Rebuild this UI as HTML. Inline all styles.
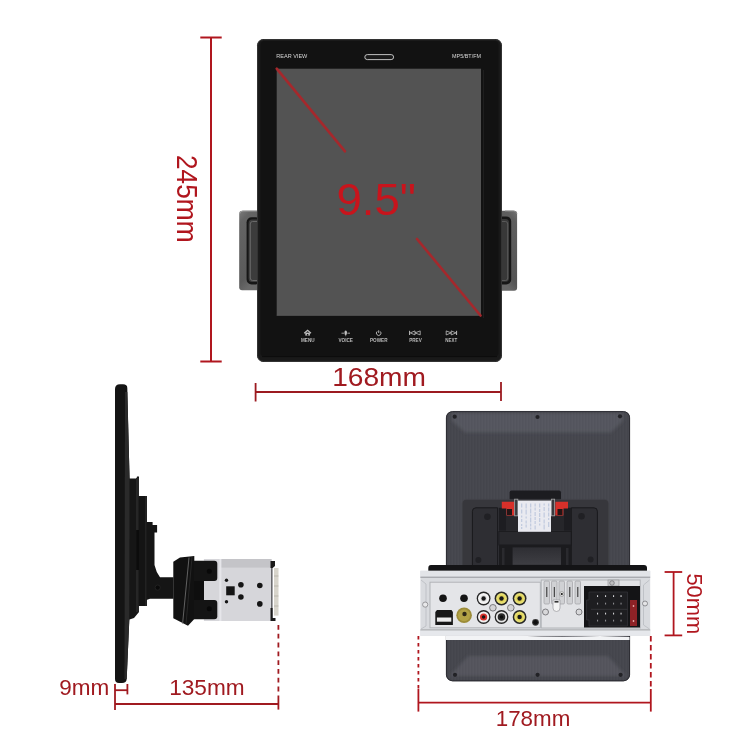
<!DOCTYPE html>
<html><head><meta charset="utf-8">
<style>
html,body{margin:0;padding:0;background:#fff;width:750px;height:750px;overflow:hidden}
svg{display:block;will-change:transform}
text{font-family:"Liberation Sans",sans-serif}
</style></head>
<body>
<svg width="750" height="750" viewBox="0 0 750 750">
<defs>
  <linearGradient id="brk" x1="0" y1="0" x2="0.3" y2="1">
    <stop offset="0" stop-color="#7c7c7c"/>
    <stop offset="0.15" stop-color="#646464"/>
    <stop offset="0.85" stop-color="#5a5a5a"/>
    <stop offset="1" stop-color="#6a6a6a"/>
  </linearGradient>
  <linearGradient id="brk2" x1="1" y1="0" x2="0.7" y2="1">
    <stop offset="0" stop-color="#747474"/>
    <stop offset="0.15" stop-color="#5e5e5e"/>
    <stop offset="0.85" stop-color="#555"/>
    <stop offset="1" stop-color="#666"/>
  </linearGradient>
  <linearGradient id="rtop" x1="0" y1="0" x2="0" y2="1">
    <stop offset="0" stop-color="#3e3e45"/>
    <stop offset="0.6" stop-color="#55555d"/>
    <stop offset="1" stop-color="#45454c"/>
  </linearGradient>
  <linearGradient id="rbot" x1="0" y1="0" x2="0" y2="1">
    <stop offset="0" stop-color="#424249"/>
    <stop offset="0.5" stop-color="#52525a"/>
    <stop offset="1" stop-color="#44444b"/>
  </linearGradient>
  <linearGradient id="brush" x1="0" y1="0" x2="1" y2="0">
    <stop offset="0" stop-color="#000" stop-opacity="0.12"/>
    <stop offset="0.05" stop-color="#000" stop-opacity="0"/>
    <stop offset="0.95" stop-color="#000" stop-opacity="0"/>
    <stop offset="1" stop-color="#000" stop-opacity="0.12"/>
  </linearGradient>
  <filter id="blur1" x="-10%" y="-50%" width="120%" height="200%"><feGaussianBlur stdDeviation="1.6"/></filter>
  <pattern id="brushp" width="3" height="10" patternUnits="userSpaceOnUse">
    <rect x="0" y="0" width="1" height="10" fill="#000" opacity="0.025"/>
    <rect x="2" y="0" width="1" height="10" fill="#fff" opacity="0.012"/>
  </pattern>
  <linearGradient id="lowin" x1="0" y1="0" x2="0" y2="1"><stop offset="0" stop-color="#2e2e33"/><stop offset="1" stop-color="#3e3e43"/></linearGradient>
</defs>
<rect width="750" height="750" fill="#fff"/>

<!-- ===== TOP: front view ===== -->
<!-- side brackets -->
<g id="brackets">
  <rect x="239.2" y="210.8" width="22" height="79.4" rx="3" fill="url(#brk)"/>
  <path d="M239.5,214 Q240,211 243,211 L258,211" fill="none" stroke="#9a9a9a" stroke-width="1"/>
  <rect x="246.6" y="217.2" width="14" height="67.2" rx="5" fill="#161616"/>
  <rect x="248.6" y="219.6" width="12" height="62.4" rx="3.5" fill="#3c3c3c"/>
  <path d="M258,221.5 L252.5,221.5 Q250.3,221.5 250.3,224 L250.3,278 Q250.3,280.5 252.5,280.5 L258,280.5" fill="none" stroke="#6e6e6e" stroke-width="0.9"/>
  <rect x="497" y="210.8" width="20.1" height="80" rx="3" fill="url(#brk2)"/>
  <path d="M505,211 L513.5,211 Q516.7,211 516.9,214" fill="none" stroke="#8a8a8a" stroke-width="1"/>
  <rect x="497" y="216.4" width="14.2" height="68" rx="5" fill="#161616"/>
  <rect x="497" y="219" width="12" height="62.8" rx="3.5" fill="#383838"/>
  <path d="M500,221.5 L505.5,221.5 Q507.7,221.5 507.7,224 L507.7,278 Q507.7,280.5 505.5,280.5 L500,280.5" fill="none" stroke="#5e5e5e" stroke-width="0.9"/>
</g>
<!-- bezel -->
<rect x="257" y="39" width="245" height="323" rx="6.5" fill="#191919"/>
<rect x="257.6" y="39.6" width="243.8" height="321.8" rx="6" fill="none" stroke="#3a3a3a" stroke-width="0.9"/>
<rect x="260.5" y="41" width="238" height="315.5" rx="4" fill="#121212"/>
<line x1="262" y1="356.6" x2="497" y2="356.6" stroke="#0a0a0a" stroke-width="0.8"/>
<line x1="483.5" y1="70" x2="483.5" y2="318" stroke="#1e1e1e" stroke-width="1"/>
<!-- screen -->
<rect x="276.7" y="68.7" width="204.3" height="246.8" fill="#535353"/>
<line x1="276.7" y1="315.3" x2="481" y2="315.3" stroke="#5e5e5e" stroke-width="0.7"/>
<line x1="276.7" y1="68.7" x2="345" y2="151.3" stroke="#a5282c" stroke-width="2.6" stroke-linecap="round"/>
<line x1="417" y1="239" x2="480.5" y2="315.5" stroke="#a5282c" stroke-width="2.6" stroke-linecap="round"/>
<text x="336.4" y="215.4" font-size="45" fill="#c8141c" textLength="79.5" lengthAdjust="spacingAndGlyphs">9.5"</text>
<!-- top bezel details -->
<text x="276.3" y="58.4" font-size="5.8" fill="#d6d6d6" textLength="31" lengthAdjust="spacingAndGlyphs">REAR VIEW</text>
<text x="452" y="58.2" font-size="5.6" fill="#d6d6d6" textLength="29" lengthAdjust="spacingAndGlyphs">MP5/BT/FM</text>
<rect x="364.8" y="54.6" width="28.8" height="5" rx="2.5" fill="#1a1a1a" stroke="#c8c8c8" stroke-width="0.95"/>
<!-- buttons -->
<g fill="#b8b8b8" font-size="5" font-weight="bold">
  <text x="301" y="341.6" textLength="13.6" lengthAdjust="spacingAndGlyphs">MENU</text>
  <text x="338.4" y="341.6" textLength="14.6" lengthAdjust="spacingAndGlyphs">VOICE</text>
  <text x="370" y="341.6" textLength="17.5" lengthAdjust="spacingAndGlyphs">POWER</text>
  <text x="409.2" y="341.6" textLength="12.6" lengthAdjust="spacingAndGlyphs">PREV</text>
  <text x="445.2" y="341.6" textLength="12" lengthAdjust="spacingAndGlyphs">NEXT</text>
</g>
<g fill="none" stroke="#c0c0c0" stroke-width="1">
  <!-- home -->
  <path d="M304.2,333.2 L307.6,330.2 L311,333.2" stroke-width="1.2"/>
  <path d="M305.3,332.6 L305.3,335.6 L309.9,335.6 L309.9,332.6" fill="#c0c0c0" stroke="none"/>
  <rect x="306.9" y="334" width="1.4" height="1.6" fill="#121212" stroke="none"/>
  <!-- voice -->
  <line x1="341.5" y1="333.2" x2="344" y2="333.2" stroke-width="0.8"/>
  <line x1="347.4" y1="333.2" x2="350" y2="333.2" stroke-width="0.8"/>
  <ellipse cx="345.7" cy="332.8" rx="1.3" ry="2.4" fill="#c0c0c0" stroke="none"/>
  <line x1="345.7" y1="335.2" x2="345.7" y2="336.2" stroke-width="0.7"/>
  <!-- power -->
  <path d="M377.2,331.4 A2.3,2.3 0 1 0 380.2,331.4" stroke-width="0.9"/>
  <line x1="378.7" y1="330.3" x2="378.7" y2="333" stroke-width="0.9"/>
  <!-- prev -->
  <line x1="409.6" y1="330.8" x2="409.6" y2="335" stroke-width="1"/>
  <path d="M410.3,332.9 L415,330.9 L415,334.9 Z M415,332.9 L420.2,330.9 L420.2,334.9 Z" stroke-width="0.8" stroke-linejoin="round"/>
  <!-- next -->
  <path d="M446.2,330.9 L451.2,332.9 L446.2,334.9 Z M451.2,330.9 L456,332.9 L451.2,334.9 Z" stroke-width="0.8" stroke-linejoin="round"/>
  <line x1="456.6" y1="330.8" x2="456.6" y2="335" stroke-width="1"/>
</g>

<!-- dimension lines top -->
<g stroke="#b0161e" stroke-width="2" fill="none">
  <line x1="211" y1="37.5" x2="211" y2="361.5"/>
  <line x1="200.3" y1="37.5" x2="221.7" y2="37.5"/>
  <line x1="200.3" y1="361.5" x2="221.7" y2="361.5"/>
</g>
<g stroke="#9c1a20" stroke-width="1.8" fill="none">
  <line x1="255.6" y1="392" x2="501" y2="392"/>
  <line x1="255.6" y1="383" x2="255.6" y2="401.5"/>
  <line x1="501" y1="382" x2="501" y2="401"/>
</g>
<text transform="translate(177,155) rotate(90)" font-size="30" fill="#b0161e" textLength="87.5" lengthAdjust="spacingAndGlyphs">245mm</text>
<text x="332.2" y="385.5" font-size="26.5" fill="#a01a20" textLength="93.8" lengthAdjust="spacingAndGlyphs">168mm</text>

<!-- ===== BOTTOM LEFT: side view ===== -->
<g id="side">
  <!-- pieces behind panel -->
  <path d="M128,478.4 L136.5,478.4 L137,476.5 L139,476.5 L139,612 L134,618 L128,620 Z" fill="#161616"/>
  <rect x="136" y="478" width="3" height="134" fill="#262626"/>
  <path d="M138.5,496 L147,496 L147,606 L138.5,606 Z" fill="#141414"/>
  <rect x="145" y="496" width="2" height="110" fill="#222"/>
  <rect x="136.2" y="530" width="2.8" height="40" fill="#0c0c0c"/>
  <path d="M146.5,521.9 L152.6,521.9 L152.6,525 L157.1,525 L157.1,532.5 L154.5,532.5 L154.5,565 Q156,572 160,577.3 L173.5,577.3 L173.5,598.8 L150,598.8 L146.5,600 Z" fill="#151515"/>
  <circle cx="157.7" cy="587.6" r="2.6" fill="#0a0a0a" stroke="#262626" stroke-width="0.8"/>
  <!-- panel -->
  <path d="M115,389 Q115,384.3 120,384.3 L123,384.3 Q127.3,384.3 127.3,388 L129.6,480 L129.3,620 L126.7,679 Q126.5,683 122,683 L119,683 Q115,683 115,679 Z" fill="#141414"/>
  <path d="M125,392 L127.3,392 L129.6,480 L129.3,620 L126.7,679 L124.5,679 Z" fill="#2a2a2a"/>
  <!-- mount frame -->
  <path d="M173.3,561.7 L180,557.5 L194.3,555.9 L194.3,619 L188,625.7 L173.3,618.3 Z" fill="#111"/>
  <line x1="189" y1="557.5" x2="182.6" y2="623.6" stroke="#6a6a6a" stroke-width="0.9"/>
  <line x1="192" y1="557" x2="186" y2="624" stroke="#2c2c2c" stroke-width="0.8"/>
  <!-- metal chassis -->
  <rect x="203.9" y="559" width="67.6" height="62" fill="#d6d6da"/>
  <rect x="219.3" y="559" width="52.2" height="8.6" fill="#c4c4c8"/>
  <rect x="219.3" y="559" width="2.1" height="62" fill="#e6e6ea"/>
  <rect x="271" y="561" width="1.6" height="60" fill="#6a6a6e"/><path d="M270.5,561 L275,561 L275,566 L272.6,568 L270.5,568 Z" fill="#1a1a1a"/><path d="M270.5,608 L272.6,608 L272.6,618 L275.5,618 L275.5,621 L270.5,621 Z" fill="#1a1a1a"/>
  <rect x="274" y="568" width="4.5" height="47.6" fill="#d8d5cc"/>
  <g stroke="#a8a49a" stroke-width="0.6"><line x1="274" y1="576" x2="278.5" y2="576"/><line x1="274" y1="586" x2="278.5" y2="586"/><line x1="274" y1="596" x2="278.5" y2="596"/><line x1="274" y1="606" x2="278.5" y2="606"/></g>
  <g fill="#151515">
    <circle cx="226.5" cy="580.2" r="1.7"/>
    <rect x="226.2" y="586.3" width="8.5" height="9"/>
    <circle cx="240.9" cy="584.7" r="2.8"/>
    <circle cx="240.9" cy="597" r="2.8"/>
    <circle cx="226.5" cy="601.7" r="1.7"/>
    <circle cx="259.8" cy="585.5" r="2.8"/>
    <circle cx="259.8" cy="603.9" r="2.8"/>
  </g>
  <!-- clamps -->
  <rect x="194" y="581" width="10" height="19" fill="#0e0e0e"/>
  <path d="M194,560.7 L214.3,560.7 Q217.3,560.7 217.3,563.7 L217.3,578 Q217.3,581 214.3,581 L194,581 Z" fill="#141414"/>
  <path d="M194,600 L214.3,600 Q217.3,600 217.3,603 L217.3,616.3 Q217.3,619.3 214.3,619.3 L194,619.3 Z" fill="#141414"/>
  <circle cx="209.3" cy="571.3" r="2.5" fill="#080808"/>
  <circle cx="209.3" cy="608.7" r="2.5" fill="#080808"/>
</g>
<g stroke="#a01a20" stroke-width="1.8" fill="none">
  <line x1="115" y1="704" x2="278.4" y2="704"/>
  <line x1="115" y1="684" x2="115" y2="710"/>
  <line x1="115" y1="690.2" x2="127.4" y2="690.2"/>
  <line x1="127.4" y1="684" x2="127.4" y2="694.4"/>
  <line x1="278.4" y1="700" x2="278.4" y2="709.6"/>
  <line x1="278.4" y1="625" x2="278.4" y2="700" stroke-dasharray="4.8 4"/>
</g>
<text x="59.2" y="695.2" font-size="21.5" fill="#a01a20" textLength="50" lengthAdjust="spacingAndGlyphs">9mm</text>
<text x="169.2" y="695.3" font-size="22.4" fill="#a01a20" textLength="75.5" lengthAdjust="spacingAndGlyphs">135mm</text>

<!-- ===== BOTTOM RIGHT: rear view ===== -->
<g id="rear">
  <!-- back panel -->
  <rect x="446" y="411.2" width="184" height="270" rx="6.5" fill="#46474e"/>
  <path d="M452,413 L623,413 L623,421 L611,432.5 L465,432.5 L452,421 Z" fill="#55565e" filter="url(#blur1)"/>
    <path d="M450,676 L468,656 L608,656 L626,676 Z" fill="#54555d" filter="url(#blur1)"/>
  <rect x="446" y="411.2" width="184" height="270" rx="6.5" fill="url(#brushp)"/>
  <rect x="446.4" y="411.6" width="183.2" height="269.2" rx="6.2" fill="none" stroke="#2c2c32" stroke-width="1"/>
  <g fill="#222226">
    <circle cx="454.7" cy="416.7" r="2.1"/><circle cx="537.5" cy="417" r="2.1"/><circle cx="620" cy="416.3" r="2.1"/>
    <circle cx="455" cy="674.8" r="2.1"/><circle cx="537.6" cy="674.8" r="2.1"/><circle cx="620.6" cy="674.8" r="2.1"/>
  </g>
  <!-- mount frame -->
  <rect x="509.6" y="490.4" width="51.4" height="10" rx="2" fill="#1c1c20"/>
  <path d="M462.2,567.8 L462.2,503.9 Q462.2,499.4 466.7,499.4 L604.2,499.4 Q608.7,499.4 608.7,503.9 L608.7,567.8 Z" fill="#37373c" stroke="#44444a" stroke-width="0.6"/>
  <path d="M472.4,567.8 L472.4,511.3 Q472.4,507.8 475.9,507.8 L497.6,507.8 L497.6,567.8 Z" fill="#2e2e33" stroke="#19191c" stroke-width="1"/>
  <path d="M571.3,567.8 L571.3,507.8 L593.9,507.8 Q597.4,507.8 597.4,511.3 L597.4,567.8 Z" fill="#2e2e33" stroke="#19191c" stroke-width="1"/>
  <rect x="498.8" y="507.8" width="7.2" height="23" fill="#1d1d21"/>
  <rect x="564" y="507.8" width="7.2" height="23" fill="#1d1d21"/>
  <rect x="506" y="515.6" width="12" height="15.2" fill="#26262a"/>
  <rect x="551" y="515.6" width="13" height="15.2" fill="#26262a"/>
  <rect x="498.8" y="531.5" width="72.4" height="13.5" fill="#29292d" stroke="#18181b" stroke-width="0.8"/>
  <rect x="498.8" y="545" width="72.4" height="22.8" fill="#1b1b1e"/>
  <rect x="512.6" y="547.4" width="48.4" height="17.4" fill="url(#lowin)"/>
  <g fill="#2a2a2e"><rect x="502" y="548" width="2.5" height="18"/><rect x="566" y="548" width="2.5" height="18"/></g>
  <g fill="#202024">
    <circle cx="487.4" cy="516.8" r="3.3"/><circle cx="581.5" cy="516.3" r="3.3"/>
    <circle cx="478.4" cy="560" r="3"/><circle cx="590.6" cy="559.4" r="3"/>
  </g>
  <!-- red clips & prongs -->
  <path d="M501.8,501.8 L514.4,501.8 L514.4,515.6 L506.5,515.6 L506.5,508.4 L501.8,508.4 Z" fill="#d8302a"/>
  <path d="M555.4,501.8 L568,501.8 L568,508.4 L563.3,508.4 L563.3,515.6 L555.4,515.6 Z" fill="#d8302a"/>
  <rect x="507" y="509" width="5" height="6" fill="#241616"/>
  <rect x="557.5" y="509" width="5" height="6" fill="#241616"/>
  <rect x="514.6" y="499.2" width="3.2" height="16.6" fill="#3a3a3e" stroke="#9a9a9c" stroke-width="0.9"/>
  <rect x="551.4" y="499.2" width="3.2" height="16.6" fill="#3a3a3e" stroke="#9a9a9c" stroke-width="0.9"/>
  <rect x="518" y="500.6" width="33" height="31.2" fill="#e9eaf0"/>
  <g fill="#8aa0c8" opacity="0.4"><rect x="521" y="503.5" width="1.3" height="4"/><rect x="521" y="509.5" width="1.3" height="4"/><rect x="521" y="515.5" width="1.3" height="2"/><rect x="521" y="519.0" width="1.3" height="3"/><rect x="521" y="524.0" width="1.3" height="2"/><rect x="521" y="527.0" width="1.3" height="2"/><rect x="525.5" y="503.5" width="1.3" height="5"/><rect x="525.5" y="509.5" width="1.3" height="5"/><rect x="525.5" y="516.5" width="1.3" height="2"/><rect x="525.5" y="520.5" width="1.3" height="3"/><rect x="525.5" y="524.5" width="1.3" height="3"/><rect x="530" y="503.5" width="1.3" height="4"/><rect x="530" y="508.5" width="1.3" height="5"/><rect x="530" y="514.5" width="1.3" height="2"/><rect x="530" y="517.5" width="1.3" height="5"/><rect x="530" y="523.5" width="1.3" height="3"/><rect x="530" y="527.5" width="1.3" height="2"/><rect x="534.5" y="503.5" width="1.3" height="3"/><rect x="534.5" y="507.5" width="1.3" height="3"/><rect x="534.5" y="512.0" width="1.3" height="4"/><rect x="534.5" y="517.0" width="1.3" height="3"/><rect x="534.5" y="521.0" width="1.3" height="3"/><rect x="534.5" y="525.5" width="1.3" height="4"/><rect x="539" y="503.5" width="1.3" height="4"/><rect x="539" y="509.0" width="1.3" height="3"/><rect x="539" y="513.0" width="1.3" height="4"/><rect x="539" y="518.0" width="1.3" height="4"/><rect x="539" y="523.5" width="1.3" height="2"/><rect x="543.5" y="503.5" width="1.3" height="2"/><rect x="543.5" y="507.0" width="1.3" height="4"/><rect x="543.5" y="512.5" width="1.3" height="5"/><rect x="543.5" y="519.5" width="1.3" height="4"/><rect x="543.5" y="524.5" width="1.3" height="5"/><rect x="548" y="503.5" width="1.3" height="3"/><rect x="548" y="507.5" width="1.3" height="4"/><rect x="548" y="512.5" width="1.3" height="4"/><rect x="548" y="518.0" width="1.3" height="2"/><rect x="548" y="522.0" width="1.3" height="5"/></g>
  <!-- chassis -->
  <path d="M431,565 L644,565 Q647,565 647,568 L647,571 L428.3,571 L428.3,568 Q428.3,565 431,565 Z" fill="#141416"/>
  <rect x="420.4" y="570.8" width="229.8" height="65" fill="#d9dbdf"/>
  <rect x="420.4" y="570.8" width="229.8" height="6" fill="#e2e4e8"/>
  <rect x="420.4" y="576.6" width="229.8" height="1.4" fill="#a9abb0"/>
  <rect x="420.4" y="629.4" width="229.8" height="1.2" fill="#a4a6aa"/>
  <rect x="420.4" y="630.6" width="229.8" height="5.2" fill="#e6e8ec"/>
  <path d="M446,635.8 L520,635.8 Q560,637.5 600,636 L629.5,637 L629.5,640 L446,640 Z" fill="#f2f3f5"/>
  <!-- flanges -->
  <path d="M421,580 L426,584 L426,626 L421,629" fill="none" stroke="#b9bbc0" stroke-width="0.8"/>
  <path d="M649.5,580 L643.5,585 L643.5,625 L649.5,629" fill="none" stroke="#b9bbc0" stroke-width="0.8"/>
  <!-- left plate -->
  <rect x="430" y="582.2" width="110.3" height="45.6" fill="#e4e5e8" stroke="#aeb0b4" stroke-width="0.9"/>
  <circle cx="425.2" cy="604.6" r="2.6" fill="#e8e8ea" stroke="#8e8e92" stroke-width="0.9"/>
  <circle cx="443" cy="598.3" r="3.8" fill="#141414"/>
  <circle cx="464" cy="598.3" r="3.8" fill="#141414"/>
  <!-- usb -->
  <path d="M437,610 L451.5,610 L452.9,612 L452.9,625 L435.3,625 L435.3,612 Z" fill="#171717"/>
  <rect x="436.9" y="617.5" width="14.4" height="4.2" fill="#ececec"/>
  <!-- gold jack -->
  <circle cx="464.1" cy="615.3" r="7.8" fill="#9c8c38"/>
  <circle cx="464.1" cy="615.3" r="6" fill="#b2a245"/>
  <circle cx="464.5" cy="614" r="2.2" fill="#2e2818"/>
  <!-- RCA -->
  <g>
    <circle cx="483.6" cy="598.5" r="6.9" fill="#262626"/><circle cx="483.6" cy="598.5" r="5.6" fill="#f4f4f4"/><circle cx="483.6" cy="598.5" r="3.2" fill="#ddd"/><circle cx="483.6" cy="598.5" r="2.2" fill="#181818"/>
    <circle cx="501.5" cy="598.5" r="6.9" fill="#262626"/><circle cx="501.5" cy="598.5" r="5.4" fill="#e6de74"/><circle cx="501.5" cy="598.5" r="3.4" fill="#e2d455"/><circle cx="501.5" cy="598.5" r="2.2" fill="#181818"/>
    <circle cx="519.6" cy="598.5" r="6.9" fill="#262626"/><circle cx="519.6" cy="598.5" r="5.4" fill="#e6de74"/><circle cx="519.6" cy="598.5" r="3.4" fill="#e2d455"/><circle cx="519.6" cy="598.5" r="2.2" fill="#181818"/>
    <circle cx="483.6" cy="617" r="6.9" fill="#262626"/><circle cx="483.6" cy="617" r="5.6" fill="#f0f0f0"/><circle cx="483.6" cy="617" r="3.6" fill="#d8302a"/><circle cx="483.6" cy="617" r="1.8" fill="#181818"/>
    <circle cx="501.5" cy="617" r="6.9" fill="#262626"/><circle cx="501.5" cy="617" r="5.6" fill="#e8e8e8"/><circle cx="501.5" cy="617" r="3.8" fill="#2a2a2a"/><circle cx="501.5" cy="617" r="1.8" fill="#0e0e0e"/>
    <circle cx="519.6" cy="617" r="6.9" fill="#262626"/><circle cx="519.6" cy="617" r="5.4" fill="#e6de74"/><circle cx="519.6" cy="617" r="3.4" fill="#e2d455"/><circle cx="519.6" cy="617" r="2.2" fill="#181818"/>
    <circle cx="492.9" cy="607.8" r="3.3" fill="#d4d4d6" stroke="#6e6e72" stroke-width="0.9"/>
    <circle cx="510.8" cy="607.8" r="3.3" fill="#d4d4d6" stroke="#6e6e72" stroke-width="0.9"/>
  </g>
  <circle cx="535.5" cy="622.3" r="3.4" fill="#3a3a3a"/><circle cx="535.5" cy="622.3" r="2.4" fill="#101010"/>
  <!-- right plate -->
  <rect x="541.2" y="580" width="99" height="48" fill="#e2e3e6" stroke="#aeb0b4" stroke-width="0.9"/>
  <g fill="#d0d1d4" stroke="#a0a1a5" stroke-width="0.7">
    <rect x="544" y="581" width="5.5" height="23" rx="1.2"/><rect x="551.5" y="581" width="5.5" height="23" rx="1.2"/><rect x="559" y="581" width="5.5" height="23" rx="1.2"/><rect x="567" y="581" width="5.5" height="23" rx="1.2"/><rect x="575" y="581" width="5.5" height="23" rx="1.2"/>
  </g>
  <g fill="#2a2a2a"><rect x="546.3" y="587" width="1" height="10"/><rect x="553.8" y="587" width="1" height="10"/><rect x="569.3" y="587" width="1" height="10"/><rect x="577.3" y="587" width="1" height="10"/></g>
  <circle cx="561.8" cy="594" r="2.3" fill="#eee" stroke="#888" stroke-width="0.7"/>
  <circle cx="561.8" cy="594" r="1.1" fill="#111"/>
  <path d="M553,600 L560,600 L560,608 Q560,611.5 556.5,611.5 Q553,611.5 553,608 Z" fill="#f4f4f4" stroke="#9a9a9e" stroke-width="0.7"/>
  <rect x="554.5" y="601" width="4" height="1.6" fill="#333"/>
  <circle cx="545.5" cy="612" r="3" fill="#d8d8da" stroke="#727276" stroke-width="0.9"/>
  <circle cx="579" cy="612" r="3" fill="#d8d8da" stroke="#727276" stroke-width="0.9"/>
  <circle cx="645" cy="603.5" r="2.5" fill="#e4e4e6" stroke="#7a7a7e" stroke-width="0.8"/>
  <rect x="608" y="580" width="11" height="6" fill="#cfd0d3" stroke="#8e8e92" stroke-width="0.6"/>
  <circle cx="612" cy="583" r="2.3" fill="#bdbdbf" stroke="#6e6e72" stroke-width="0.7"/>
  <!-- ISO connector -->
  <rect x="584" y="586" width="56" height="41.5" fill="#141416"/>
  <path d="M589,592 L627.5,592 L627.5,626 L589,626 L589,620 L586.5,620 L586.5,600 L589,600 Z" fill="#1e1e21" stroke="#34343a" stroke-width="0.7"/>
  <line x1="591" y1="609.3" x2="627.5" y2="609.3" stroke="#38383e" stroke-width="0.8"/>
  <g fill="#cfcfd2">
    <rect x="597" y="595.2" width="1.1" height="1.8"/><rect x="605" y="595.2" width="1.1" height="1.8"/><rect x="613" y="595.2" width="1.1" height="1.8"/><rect x="620.5" y="595.2" width="1.1" height="1.8"/>
    <rect x="613" y="612.7" width="1.1" height="1.8"/><rect x="597" y="612.7" width="1.1" height="1.8"/><rect x="605" y="612.7" width="1.1" height="1.8"/><rect x="620.5" y="612.7" width="1.1" height="1.8"/>
  </g>
  <g fill="#8a8a8e">
    <rect x="597" y="602.7" width="1.1" height="1.8"/><rect x="605" y="602.7" width="1.1" height="1.8"/><rect x="613" y="602.7" width="1.1" height="1.8"/><rect x="620.5" y="602.7" width="1.1" height="1.8"/>
    <rect x="597" y="619.7" width="1.1" height="1.8"/><rect x="605" y="619.7" width="1.1" height="1.8"/><rect x="613" y="619.7" width="1.1" height="1.8"/><rect x="620.5" y="619.7" width="1.1" height="1.8"/>
  </g>
  <rect x="630" y="600" width="7" height="26" fill="#8e2226"/>
  <rect x="632.8" y="605" width="1.4" height="2" fill="#e0a0a0"/><rect x="632.8" y="620" width="1.4" height="2" fill="#e0a0a0"/>
</g>
<g stroke="#b0161e" stroke-width="1.8" fill="none">
  <line x1="673.6" y1="572" x2="673.6" y2="635.4"/>
  <line x1="664.6" y1="572" x2="682.2" y2="572"/>
  <line x1="664.6" y1="635.4" x2="682.2" y2="635.4"/>
  <line x1="418.4" y1="702.6" x2="650.8" y2="702.6"/>
  <line x1="418.4" y1="636" x2="418.4" y2="689" stroke-dasharray="3.6 3.4"/>
  <line x1="418.4" y1="689" x2="418.4" y2="711.6"/>
  <line x1="650.8" y1="636" x2="650.8" y2="688" stroke-dasharray="5.5 3.5"/>
  <line x1="650.8" y1="689" x2="650.8" y2="711.6"/>
</g>
<text transform="translate(686.8,573.4) rotate(90)" font-size="22" fill="#b0161e" textLength="61" lengthAdjust="spacingAndGlyphs">50mm</text>
<text x="495.7" y="726" font-size="22.3" fill="#a01a20" textLength="74.6" lengthAdjust="spacingAndGlyphs">178mm</text>
</svg>
</body></html>
